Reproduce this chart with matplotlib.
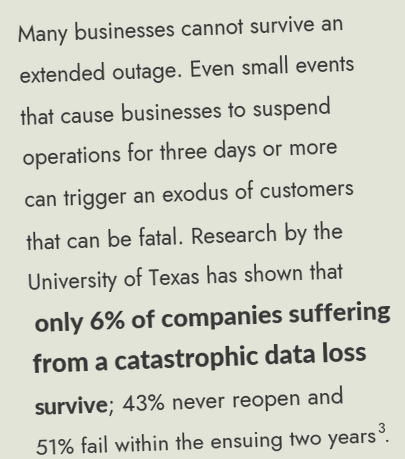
import math
import logging
import matplotlib
matplotlib.use("Agg")
import matplotlib.pyplot as plt
logging.getLogger("matplotlib.font_manager").setLevel(logging.ERROR)

W, H = 406, 460
BG = "#e2e4d8"
FG = "#363636"

# Each line: list of (text, style) segments; style: 'r' regular, 'b' bold, 's' superscript
lines = [
    [("Many businesses cannot survive an", "r")],
    [("extended outage. Even small events", "r")],
    [("that cause businesses to suspend", "r")],
    [("operations for three days or more", "r")],
    [("can trigger an exodus of customers", "r")],
    [("that can be fatal. Research by the", "r")],
    [("University of Texas has shown that", "r")],
    [("only 6% of companies suffering", "b")],
    [("from a catastrophic data loss", "b")],
    [("survive", "b"), ("; 43% never reopen and", "r")],
    [("51% fail within the ensuing two years", "r"), ("3", "s"), (".", "r")],
]
line_x = [18, 20, 21, 23, 25, 27, 28, 35, 33, 34, 36]
line_y = [42, 83, 125, 165, 207, 250, 290, 332, 373, 415, 455]
line_w = [327, 336, 311, 316, 330, 317, 315, 358, 335, 311, 355]

ANGLE = 2.1
REG = dict(family=["Jost", "Lato", "DejaVu Sans"], weight=400)
BOLD = dict(family=["Lato", "DejaVu Sans"], weight="black")

fig = plt.figure(figsize=(W / 100, H / 100), dpi=100, facecolor=BG)
ax = fig.add_axes([0, 0, 1, 1])
ax.set_xlim(0, W)
ax.set_ylim(H, 0)
ax.axis("off")
ax.set_facecolor(BG)

renderer = fig.canvas.get_renderer()
ca, sa = math.cos(math.radians(ANGLE)), math.sin(math.radians(ANGLE))

def seg_width(txt, props, size):
    t = ax.text(0, 0, txt, fontsize=size, **props)
    w = t.get_window_extent(renderer).width
    t.remove()
    return w

def style_props(st):
    return BOLD if st == "b" else REG

SUP = 0.65

def line_width(segs, size):
    tot = 0
    for txt, st in segs:
        s = size * SUP if st == "s" else size
        tot += seg_width(txt, style_props(st), s)
    return tot

base_size = 15.0
for segs, x0, y0, wt in zip(lines, line_x, line_y, line_w):
    w = line_width(segs, base_size)
    size = base_size * wt / w
    x, y = x0, y0
    for txt, st in segs:
        props = style_props(st)
        s = size * SUP if st == "s" else size
        xx, yy = x, y
        if st == "s":
            lift = 0.42 * size * 1.389
            xx = x + lift * sa
            yy = y - lift * ca
        ax.text(xx, yy, txt, fontsize=s, color=FG, rotation=ANGLE,
                rotation_mode="anchor", ha="left", va="baseline", **props)
        adv = seg_width(txt, props, s)
        x += adv * ca
        y -= adv * sa

fig.savefig("out.png", dpi=100, facecolor=BG)
